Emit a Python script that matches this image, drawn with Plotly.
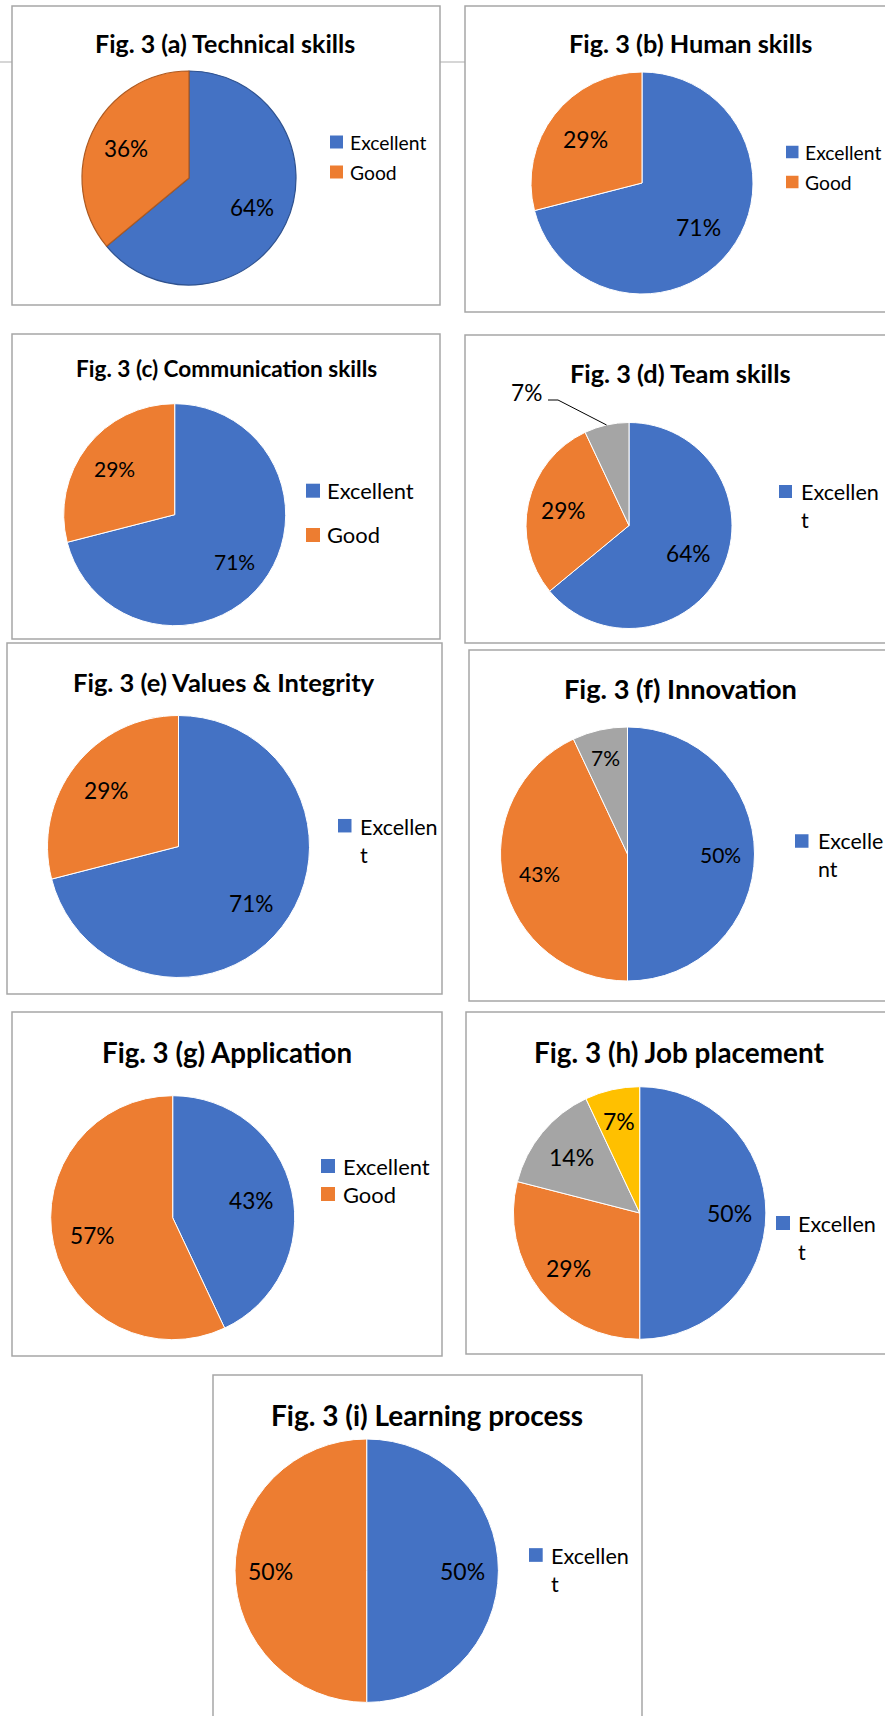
import math
import plotly.graph_objects as go

W, H = 885, 1716

# Ratings given by respondents, in percent
categories = ["Excellent", "Good", "Average", "Poor"]
technical_skills = [64, 36]
human_skills = [71, 29]
communication_skills = [71, 29]
team_skills = [64, 29, 7]
values_integrity = [71, 29]
innovation = [50, 43, 7]
application = [43, 57]
job_placement = [50, 29, 14, 7]
learning_process = [50, 50]

titles = [
    "Fig. 3 (a) Technical skills",
    "Fig. 3 (b) Human skills",
    "Fig. 3 (c) Communication skills",
    "Fig. 3 (d) Team skills",
    "Fig. 3 (e) Values & Integrity",
    "Fig. 3 (f) Innovation",
    "Fig. 3 (g) Application",
    "Fig. 3 (h) Job placement",
    "Fig. 3 (i) Learning process",
]

series = [technical_skills, human_skills, communication_skills, team_skills,
          values_integrity, innovation, application, job_placement, learning_process]

# Legend text as it appears in each chart box (wrapped where the box is narrow)
legend_lines = [
    ["Excellent", "Good"],
    ["Excellent", "Good"],
    ["Excellent", "Good"],
    ["Excellen<br>t"],
    ["Excellen<br>t"],
    ["Excelle<br>nt"],
    ["Excellent", "Good"],
    ["Excellen<br>t"],
    ["Excellen<br>t"],
]

slice_colors = ["#4472C4", "#ED7D31", "#A5A5A5", "#FFC000"]
edge_colors_a = ["#2F528F", "#AE5A21"]

FONT = "Lato"

# Geometry of each chart box in page pixels
panels = [
    dict(box=(12, 6, 440, 305), title=(225, 43, 25), pie=(189, 178, 107),
         frac=[0.65, 0.65], lab=22.5,
         leg=dict(sq=(330, 13), rows=[142, 172], tx=348, fs=19.3)),
    dict(box=(465, 6, 890, 312), title=(690, 43, 25.3), pie=(642, 183, 111),
         frac=[0.64, 0.64], lab=23,
         leg=dict(sq=(786, 12.5), rows=[152, 182], tx=803, fs=19.3)),
    dict(box=(12, 334, 440, 639), title=(226, 368, 22.6), pie=(174.7, 514.7, 111),
         frac=[0.685, 0.685], lab=21,
         leg=dict(sq=(306, 14), rows=[490.7, 535], tx=325, fs=21.9)),
    dict(box=(465, 335, 890, 643), title=(680, 373, 25.3), pie=(629, 525.5, 103),
         frac=[0.64, 0.65, None], lab=22.7,
         outside={2: (526, 393)},
         leg=dict(sq=(779, 13), rows=[491.5], tx=799, fs=21.6, mid=505.5)),
    dict(box=(7, 643, 442, 994), title=(224, 682, 25.5), pie=(178.5, 846.5, 131),
         frac=[0.705, 0.70], lab=22.7,
         leg=dict(sq=(338, 13.5), rows=[825.7], tx=358, fs=21.5, mid=841)),
    dict(box=(469, 650, 890, 1001), title=(680, 688, 27.2), pie=(627.5, 854, 127),
         frac=[0.73, 0.71, 0.78], lab=21,
         leg=dict(sq=(795, 13.5), rows=[841], tx=816, fs=21.4, mid=855.5)),
    dict(box=(12, 1012, 442, 1356), title=(227, 1052, 27.7), pie=(172.7, 1217.7, 122),
         frac=[0.66, 0.67], lab=22.7,
         leg=dict(sq=(321, 14), rows=[1166, 1194], tx=341, fs=21.9)),
    dict(box=(466, 1012, 890, 1354), title=(679, 1052, 27.9), pie=(639.7, 1213, 126.3),
         frac=[0.71, 0.71, 0.70, 0.75], lab=23,
         leg=dict(sq=(776, 14), rows=[1223], tx=796, fs=21.6, mid=1237.5)),
    dict(box=(213, 1375, 642, 1720), title=(427, 1415, 28), pie=(366.7, 1570.7, 131.7),
         frac=[0.73, 0.73], lab=23,
         leg=dict(sq=(529, 13.7), rows=[1555], tx=549, fs=21.6, mid=1569.5)),
]


def px(x):
    return x / W


def py(y):
    return 1 - y / H


fig = go.Figure()
shapes = []
annotations = []

# faint rule running behind the first row of boxes
shapes.append(dict(type="line", xref="paper", yref="paper", layer="below",
                   x0=px(0), x1=px(465), y0=py(62), y1=py(62),
                   line=dict(color="#C8C8C8", width=1.5)))

for i, (spec, vals, title, leg_text) in enumerate(zip(panels, series, titles, legend_lines)):
    x0, y0, x1, y1 = spec["box"]
    shapes.append(dict(type="rect", xref="paper", yref="paper", layer="below",
                       x0=px(x0), x1=px(x1), y0=py(y1), y1=py(y0),
                       fillcolor="white", line=dict(color="#A6A6A6", width=1.5)))

    tx, ty, tsize = spec["title"]
    annotations.append(dict(x=px(tx), y=py(ty), xref="paper", yref="paper",
                            text=f"<b>{title}</b>", showarrow=False,
                            xanchor="center", yanchor="middle",
                            font=dict(family=FONT, size=tsize, color="#000000")))

    cx, cy, r = spec["pie"]
    n = len(vals)
    if i == 0:
        line = dict(color=edge_colors_a, width=1.2)
    else:
        line = dict(color="white", width=1)
    fig.add_trace(go.Pie(
        labels=categories[:n], values=vals, sort=False, direction="clockwise",
        rotation=0, textinfo="none", showlegend=False,
        marker=dict(colors=slice_colors[:n], line=line),
        domain=dict(x=[px(cx - r), px(cx + r)], y=[py(cy + r), py(cy - r)]),
        hovertemplate="%{label}: %{value}%<extra></extra>",
    ))

    # data labels placed on each slice's bisector
    total = sum(vals)
    cum = 0
    for k, v in enumerate(vals):
        theta = 2 * math.pi * (cum + v / 2) / total
        cum += v
        outside = spec.get("outside", {})
        if k in outside:
            lx, ly = outside[k]
            ex, ey = cx + r * math.sin(theta), cy - r * math.cos(theta)
            shapes.append(dict(type="path", xref="paper", yref="paper",
                               path=(f"M {px(ex)} {py(ey)} L {px(lx + 32)} {py(ly + 7)} "
                                     f"L {px(lx + 22)} {py(ly + 7)}"),
                               line=dict(color="#000000", width=1)))
        else:
            f = spec["frac"][k]
            lx, ly = cx + f * r * math.sin(theta), cy - f * r * math.cos(theta)
        annotations.append(dict(x=px(lx), y=py(ly), xref="paper", yref="paper",
                                text=f"{v}%", showarrow=False,
                                xanchor="center", yanchor="middle",
                                font=dict(family=FONT, size=spec["lab"], color="#000000")))

    # legend swatches and entries
    leg = spec["leg"]
    sx, ss = leg["sq"]
    for k, row in enumerate(leg["rows"]):
        shapes.append(dict(type="rect", xref="paper", yref="paper",
                           x0=px(sx), x1=px(sx + ss), y0=py(row + ss / 2), y1=py(row - ss / 2),
                           fillcolor=slice_colors[k], line=dict(width=0)))
        text = leg_text[k]
        ymid = leg.get("mid", row) if "<br>" in text else row
        annotations.append(dict(x=px(leg["tx"]), y=py(ymid), xref="paper", yref="paper",
                                text=text, showarrow=False, align="left",
                                xanchor="left", yanchor="middle",
                                font=dict(family=FONT, size=leg["fs"], color="#000000")))

fig.update_layout(
    width=W, height=H,
    margin=dict(l=0, r=0, t=0, b=0),
    paper_bgcolor="white", plot_bgcolor="white",
    shapes=shapes, annotations=annotations,
    showlegend=False,
)

fig.write_html("out.html")
